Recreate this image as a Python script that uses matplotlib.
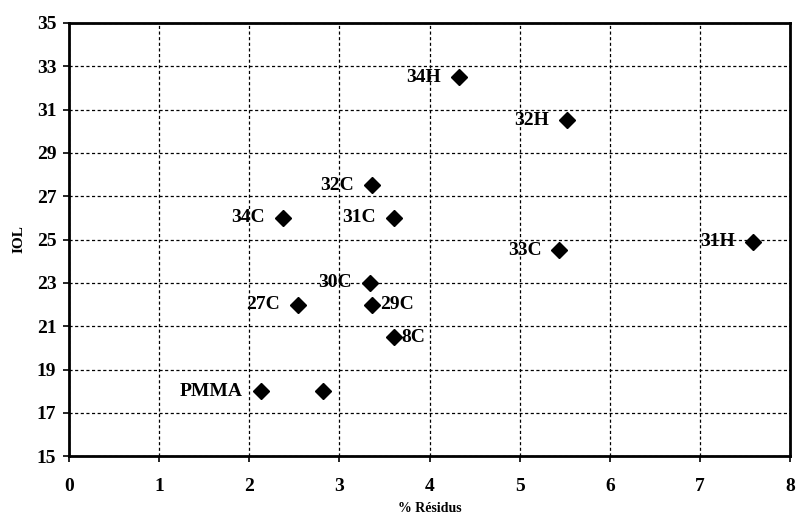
import matplotlib
matplotlib.use('Agg')
import matplotlib.pyplot as plt

# valeurs
residus = [4.33, 5.52, 7.59, 5.44, 3.36, 2.37, 3.60, 3.34, 2.54, 3.36, 3.60, 2.13, 2.82]
iol = [32.5, 30.5, 24.9, 24.5, 27.5, 26.0, 26.0, 23.0, 22.0, 22.0, 20.5, 18.0, 18.0]
noms = ["34H", "32H", "31H", "33C", "32C", "34C", "31C", "30C", "27C", "29C", "8C", "PMMA", ""]
# cote du label: -1 gauche, +1 droite
cote = [-1, -1, -1, -1, -1, -1, -1, -1, -1, 1, 1, -1, 0]

xticks = list(range(0, 9))
yticks = list(range(15, 36, 2))

plt.rcParams['font.family'] = ['Liberation Serif', 'DejaVu Serif']

fig = plt.figure(figsize=(8, 5.19), dpi=100)
ax = fig.add_axes([0.086, 0.121, 0.902, 0.835])

ax.plot(residus, iol, linestyle='none', marker='D', markersize=8.5,
        color='black', zorder=3)

for x, y, n, c in zip(residus, iol, noms, cote):
    if not n:
        continue
    if c < 0:
        ax.annotate(n, (x, y), xytext=(-13, 0), textcoords='offset points',
                    ha='right', va='center', fontsize=14, fontweight='bold')
    else:
        ax.annotate(n, (x, y), xytext=(6, 0), textcoords='offset points',
                    ha='left', va='center', fontsize=14, fontweight='bold')

ax.set_xlim(0, 8)
ax.set_ylim(15, 35)
ax.set_xticks(xticks)
ax.set_yticks(yticks)
ax.tick_params(labelsize=14, length=4, width=1.2, direction='out')
for t in ax.get_xticklabels() + ax.get_yticklabels():
    t.set_fontweight('bold')
ax.tick_params(axis='x', pad=12)
ax.tick_params(axis='y', pad=5)

ax.grid(True, color='black', linestyle=(0, (2.5, 2)), linewidth=0.9)
ax.set_axisbelow(True)
for s in ax.spines.values():
    s.set_linewidth(2.0)

ax.set_xlabel("% Résidus", fontsize=10, fontweight='bold', labelpad=5)
ax.set_ylabel("IOL", fontsize=11, fontweight='bold', labelpad=8)

fig.savefig("out.png", dpi=100)
